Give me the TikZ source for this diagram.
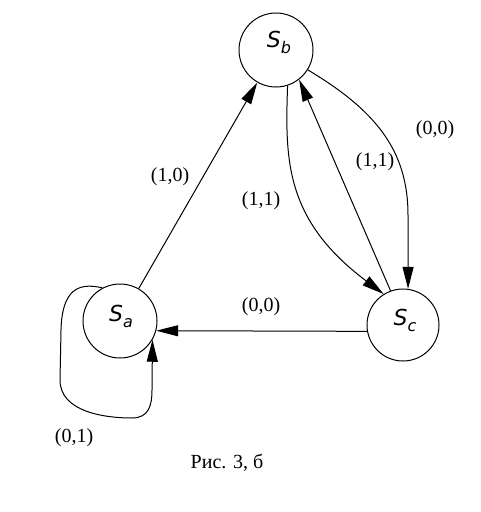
\documentclass[tikz,border=0pt]{standalone}
\usepackage{fontspec}
\setmainfont{Liberation Serif}
\newfontfamily\symfont{DejaVu Sans}
\usetikzlibrary{arrows.meta}
\newcommand{\stname}[1]{{\symfont\fontsize{22}{22}\selectfont\itshape S\raisebox{-6pt}{\fontsize{16}{16}\selectfont #1}}}
\tikzset{
  state/.style={circle, draw, line width=1pt, minimum size=74pt, inner sep=0pt},
  tipsty/.tip={Triangle[length=22pt,width=11pt]},
  conn/.style={line width=1pt, -tipsty},
  lab/.style={font=\fontsize{20}{20}\selectfont, inner sep=1pt},
}
\begin{document}
\begin{tikzpicture}[x=1pt,y=-1pt]
\useasboundingbox (0,0) rectangle (480,512);
\node[state] (Sb) at (276,50) {};
\node[state] (Sa) at (120,321) {};
\node[state, minimum size=72pt] (Sc) at (403,325) {};
\node (tb) at (279,42) {\stname{b}};
\node (ta) at (121,316) {\stname{a}};
\node (tc) at (405,320) {\stname{c}};
% edges
\draw[conn] (Sa.60) -- (Sb.240);
\draw[conn] (Sc.110) -- (Sb.-52);
\draw[conn] (Sb.-72) .. controls (285,160) and (285,220) .. (Sc.122);
\draw[conn] (Sb.-32) .. controls (375,110) and (408,150) .. (408,215) -- (Sc.82);
\draw[conn] (Sc.190) -- (Sa.-15);
\draw[conn] (Sa.118) .. controls (78,282) and (62,290) .. (61,330) -- (60,380)
  .. controls (60,412) and (105,418) .. (132,418)
  .. controls (149,418) and (152,405) .. (152,390) -- (Sa.-30);
% labels
\node[lab] (l1) at (170,177) {(1,0)};
\node[lab] (l2) at (261,201) {(1,1)};
\node[lab] (l3) at (375,162) {(1,1)};
\node[lab] (l4) at (435,130) {(0,0)};
\node[lab] (l5) at (261,307) {(0,0)};
\node[lab] (l6) at (74,438) {(0,1)};
\node[lab] (cap) at (227,463) {Рис. 3, б};
\end{tikzpicture}
\end{document}
